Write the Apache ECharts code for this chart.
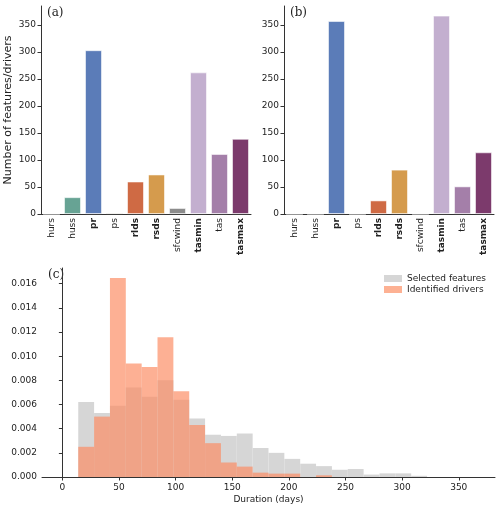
<!DOCTYPE html>
<html>
<head>
<meta charset="utf-8">
<script src="https://cdn.jsdelivr.net/npm/echarts@6/dist/echarts.min.js"></script>
<style>
  html, body { margin: 0; padding: 0; background: #fff; }
  #chart { width: 500px; height: 510px; }
</style>
</head>
<body>
<div id="chart"></div>
<script>
// variables shown in panels (a) and (b)
var variables = ['hurs', 'huss', 'pr', 'ps', 'rlds', 'rsds', 'sfcwind', 'tasmin', 'tas', 'tasmax'];
var boldVars = ['pr', 'rlds', 'rsds', 'tasmin', 'tasmax'];
var featureCounts = [0, 31, 303, 2, 60, 73, 11, 262, 111, 139];   // (a)
var driverCounts = [0, 0, 357, 0, 25, 82, 0, 367, 51, 114];       // (b)

// histogram (c): bin edges and densities
var binEdges = [14, 28, 42, 56, 70, 84, 98, 112, 126, 140, 154, 168, 182, 196, 210, 224, 238, 252, 266, 280, 294, 308, 322];
var selectedDensity = [0.0062, 0.0053, 0.0059, 0.0074, 0.00665, 0.0080, 0.0064, 0.00485, 0.0035, 0.0034, 0.0036, 0.0024,
                       0.0020, 0.0015, 0.0011, 0.0009, 0.0006, 0.00066, 0.0002, 0.0003, 0.0003, 0.0001];
var driverDensity = [0.0025, 0.0050, 0.01647, 0.0094, 0.0091, 0.01156, 0.0071, 0.0043, 0.0028, 0.0012, 0.00086, 0.00036,
                     0.00028, 0.00028, 0, 0.00014, 0, 0, 0, 0, 0, 0];
var durationTicks = [0, 50, 100, 150, 200, 250, 300, 350];

var barColors = ['#c9c9c9', '#67a394', '#5b7cb8', '#6f6a3e', '#cf6a44', '#d59b4d', '#8c8c8c', '#c3afcf', '#a47fa9', '#7c3a6c'];

var myChart = echarts.init(document.getElementById('chart'));
var txt = '#222';
var axisCol = '#333';
var fontFam = 'DejaVu Sans';
var fs = 9;

function catLabel(v) {
	if (boldVars.indexOf(v) >= 0) return '{b|' + v + '}';
	return '{n|' + v + '}';
}

function barData(vals) {
	var out = [];
	for (var i = 0; i < vals.length; i++) {
		out.push({ value: vals[i], itemStyle: { color: barColors[i] } });
	}
	return out;
}

function histData(dens) {
	var out = [];
	for (var i = 0; i < dens.length; i++) {
		out.push([binEdges[i], binEdges[i + 1], dens[i]]);
	}
	return out;
}

function histRender(fill, opacity) {
	return function(params, api) {
		var p0 = api.coord([api.value(0), api.value(2)]);
		var p1 = api.coord([api.value(1), 0]);
		return {
			type: 'rect',
			shape: { x: p0[0], y: p0[1], width: p1[0] - p0[0], height: p1[1] - p0[1] },
			style: { fill: fill, opacity: opacity }
		};
	};
}

var catAxis = function(gi) {
	return {
		type: 'category', gridIndex: gi, data: variables,
		axisLine: { lineStyle: { color: axisCol, width: 1 } },
		axisTick: { alignWithLabel: true, length: 3.5, lineStyle: { color: axisCol } },
		axisLabel: {
			rotate: 90, interval: 0, margin: 4, formatter: catLabel,
			rich: {
				n: { fontFamily: fontFam, fontSize: fs, color: txt },
				b: { fontFamily: fontFam, fontSize: fs, color: txt, fontWeight: 'bold' }
			}
		}
	};
};

var countAxis = function(gi) {
	return {
		type: 'value', gridIndex: gi, min: 0, max: 385, interval: 50,
		splitLine: { show: false },
		axisLine: { show: true, lineStyle: { color: axisCol, width: 1 } },
		axisTick: { show: true, length: 3.5, lineStyle: { color: axisCol } },
		axisLabel: { fontFamily: fontFam, fontSize: fs, color: txt, margin: 5, showMaxLabel: false }
	};
};

var yA = countAxis(0);
yA.name = 'Number of features/drivers';
yA.nameLocation = 'middle';
yA.nameGap = 27;
yA.nameTextStyle = { fontFamily: fontFam, fontSize: 11, color: txt };

var option = {
	animation: false,
	backgroundColor: '#fff',
	grid: [
		{ left: 41, top: 6, width: 210, height: 208 },
		{ left: 284, top: 6, width: 210, height: 208 },
		{ left: 42, top: 268, width: 453, height: 209 }
	],
	xAxis: [
		catAxis(0),
		catAxis(1),
		{
			type: 'value', gridIndex: 2, min: -18, max: 382, splitNumber: 8,
			name: 'Duration (days)', nameLocation: 'middle', nameGap: 18,
			nameTextStyle: { fontFamily: fontFam, fontSize: fs, color: txt },
			splitLine: { show: false },
			axisLine: { lineStyle: { color: axisCol, width: 1 } },
			axisTick: { length: 3.5, lineStyle: { color: axisCol } },
			axisLabel: {
				fontFamily: fontFam, fontSize: fs, color: txt, margin: 6,
				showMinLabel: false, showMaxLabel: false,
				formatter: function(v) { return durationTicks.indexOf(v) >= 0 ? String(v) : ''; }
			}
		}
	],
	yAxis: [
		yA,
		countAxis(1),
		{
			type: 'value', gridIndex: 2, min: 0, max: 0.0173, interval: 0.002,
			splitLine: { show: false },
			axisLine: { show: true, lineStyle: { color: axisCol, width: 1 } },
			axisTick: { show: true, length: 3.5, lineStyle: { color: axisCol } },
			axisLabel: {
				fontFamily: fontFam, fontSize: fs, color: txt, margin: 5, showMaxLabel: false,
				formatter: function(v) { return v.toFixed(3); }
			}
		}
	],
	legend: {
		orient: 'vertical', left: 379, top: 269, itemWidth: 18, itemHeight: 7, itemGap: 2,
		textStyle: { fontFamily: fontFam, fontSize: fs, color: txt },
		data: [
			{ name: 'Selected features', icon: 'rect', itemStyle: { color: '#d6d6d6' } },
			{ name: 'Identified drivers', icon: 'rect', itemStyle: { color: '#fdb193' } }
		]
	},
	graphic: [
		{ type: 'text', left: 47, top: 7, style: { text: '(a)', font: '12px "DejaVu Serif"', fill: txt } },
		{ type: 'text', left: 290, top: 7, style: { text: '(b)', font: '12px "DejaVu Serif"', fill: txt } },
		{ type: 'text', left: 48, top: 269, style: { text: '(c)', font: '12px "DejaVu Serif"', fill: txt } }
	],
	series: [
		{
			type: 'bar', xAxisIndex: 0, yAxisIndex: 0, barCategoryGap: '20%',
			itemStyle: { borderColor: 'rgba(255,255,255,0.7)', borderWidth: 0.8 },
			data: barData(featureCounts)
		},
		{
			type: 'bar', xAxisIndex: 1, yAxisIndex: 1, barCategoryGap: '20%',
			itemStyle: { borderColor: 'rgba(255,255,255,0.7)', borderWidth: 0.8 },
			data: barData(driverCounts)
		},
		{
			name: 'Selected features', type: 'custom', xAxisIndex: 2, yAxisIndex: 2,
			itemStyle: { color: '#d6d6d6' },
			renderItem: histRender('#d6d6d6', 1),
			encode: { x: [0, 1], y: 2 },
			data: histData(selectedDensity)
		},
		{
			name: 'Identified drivers', type: 'custom', xAxisIndex: 2, yAxisIndex: 2,
			itemStyle: { color: '#fdb193' },
			renderItem: histRender('#fc895f', 0.67),
			encode: { x: [0, 1], y: 2 },
			data: histData(driverDensity)
		}
	]
};

myChart.setOption(option);
</script>
</body>
</html>
